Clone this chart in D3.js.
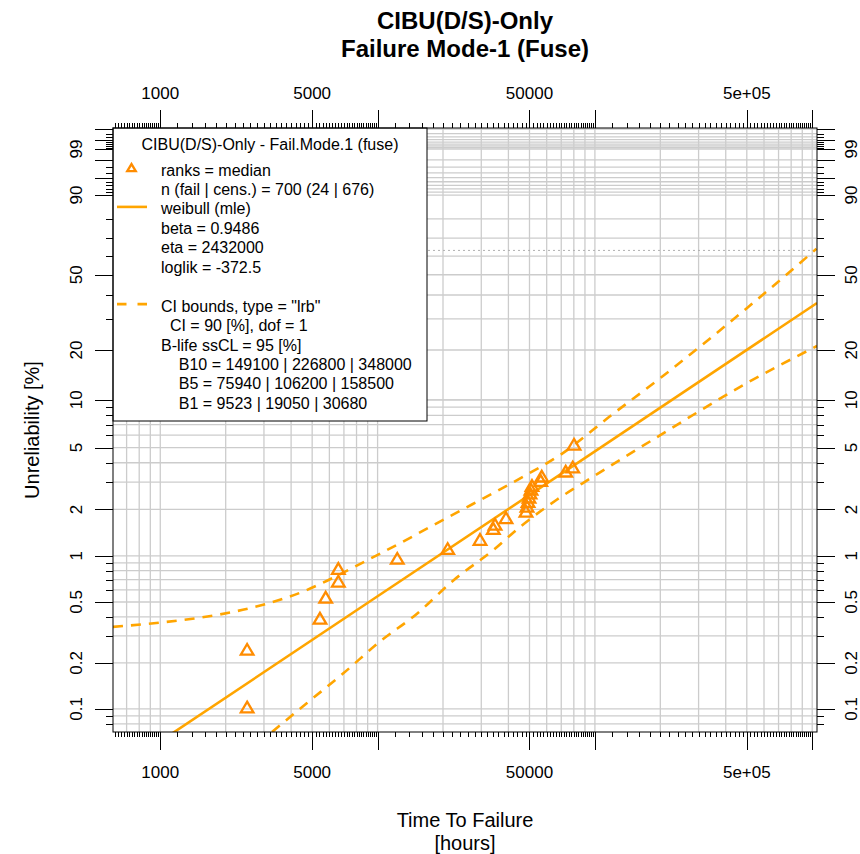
<!DOCTYPE html>
<html>
<head>
<meta charset="utf-8">
<script src="https://cdn.jsdelivr.net/npm/d3@7/dist/d3.min.js"></script>
<style>
  body { margin: 0; background: #fff; }
  svg { font-family: "Liberation Sans", Arial, sans-serif; }
  .leg text { white-space: pre; }
</style>
</head>
<body>
<div id="chart"></div>
<script>
// failures (time in hours, unreliability in %)
const failTime = [2510, 2510, 5430, 5770, 6597, 6597, 12320, 21020, 29600, 34080, 34700, 38980,
  48190, 48700, 49220, 49740, 50270, 50800, 51340, 56330, 56930, 73400, 79060, 80150];
const failPct = [0.102, 0.243, 0.388, 0.532, 0.677, 0.819, 0.954, 1.104, 1.266, 1.49, 1.59, 1.75,
  1.93, 2.08, 2.23, 2.38, 2.53, 2.68, 2.83, 3.05, 3.25, 3.50, 3.72, 5.2];

// weibull fit line
const fitTime = [1000, 10000, 100000, 1052000];
const fitPct = [0.0614, 0.545, 4.73, 36.4];

// likelihood ratio bounds
const upperTime = [606, 3883, 9908, 21540, 46840, 69100, 119500, 200000, 500000, 1046000];
const upperPct = [0.344, 0.538, 1.007, 1.81, 3.26, 4.48, 8.05, 13.6, 34.2, 64.1];
const lowerTime = [3268, 4720, 6957, 10260, 15140, 22310, 34080, 45220, 66730, 98330, 200000, 490600, 1052000];
const lowerPct = [0.0707, 0.109, 0.171, 0.276, 0.418, 0.691, 1.09, 1.54, 2.31, 3.26, 6.0, 12.5, 21.1];

const etaPct = 63.21;

const xLabelVals = [1000, 5000, 50000, 500000];
const xLabelText = ['1000', '5000', '50000', '5e+05'];
const xLongTicks = [1000, 5000, 10000, 50000, 100000, 500000, 1000000];

const yLabelVals = [0.1, 0.2, 0.5, 1, 2, 5, 10, 20, 50, 90, 99];
const yLongTicks = [0.1, 0.2, 0.5, 1, 2, 5, 10, 20, 50, 90, 95, 98, 99, 99.5, 99.8];
const yMidTicks = [20, 30, 40, 50, 60, 70, 80];

const legendTitle = 'CIBU(D/S)-Only - Fail.Mode.1 (fuse)';
const legendRows = [
  'ranks = median',
  'n (fail | cens.) = 700 (24 | 676)',
  'weibull (mle)',
  'beta = 0.9486',
  'eta = 2432000',
  'loglik = -372.5',
  '',
  'CI bounds, type = "lrb"',
  '  CI = 90 [%], dof = 1',
  'B-life ssCL = 95 [%]',
  '    B10 = 149100 | 226800 | 348000',
  '    B5 = 75940 | 106200 | 158500',
  '    B1 = 9523 | 19050 | 30680'
];
const legendSymbols = ['tri', '', 'line', '', '', '', '', 'dash', '', '', '', '', ''];

const W = 860, H = 854;
const L = 113, R = 817, T = 128, B = 732;
const lineCol = '#FFA500', ptCol = '#FF8C00', gridCol = '#cccccc';

// weibull probability transform
const wb = p => Math.log(-Math.log(1 - p / 100));

const x = d3.scaleLog().domain([606, 1052000]).range([L, R]);
const yw = d3.scaleLinear().domain([wb(0.0707), wb(99.82)]).range([B, T]);
const y = p => yw(wb(p));

const svg = d3.select('#chart').append('svg')
  .attr('width', W).attr('height', H);

svg.append('defs').append('clipPath').attr('id', 'clip')
  .append('rect').attr('x', L).attr('y', T).attr('width', R - L).attr('height', B - T);

// tick / grid value sets
const xGrid = [];
for (let k = 2; k <= 6; k++) d3.range(1, 10).forEach(m => xGrid.push(m * Math.pow(10, k)));
const xGridIn = xGrid.filter(v => v >= 606 && v <= 1052000);
const xMinor = [];
for (let k = 2; k <= 6; k++) {
  const base = Math.pow(10, k);
  d3.range(1, 45).forEach(j => xMinor.push(base + j * base / 5));
}
const xMinorIn = xMinor.filter(v => v >= 606 && v <= 1052000);

const yLow = [];
[0.01, 0.1, 1].forEach(b => d3.range(1, 10).forEach(m => yLow.push(+(m * b).toFixed(3))));
yLow.push(10);
const yHigh = [];
[0.1, 0.01, 0.001].forEach(b => d3.range(1, 10).forEach(m => yHigh.push(+(100 - m * b * 100).toFixed(3))));
const inY = p => y(p) >= T - 0.5 && y(p) <= B + 0.5;
const yGrid = yLow.concat(yHigh).filter(inY);
const yTicks = yLow.concat(yMidTicks, yHigh).filter(inY);

const panel = svg.append('g').attr('clip-path', 'url(#clip)');

// grid
panel.selectAll('.vg').data(xGridIn).enter().append('line')
  .attr('x1', d => x(d)).attr('x2', d => x(d)).attr('y1', T).attr('y2', B)
  .attr('stroke', gridCol).attr('stroke-width', 1.3);
panel.selectAll('.hg').data(yGrid).enter().append('line')
  .attr('x1', L).attr('x2', R).attr('y1', d => y(d)).attr('y2', d => y(d))
  .attr('stroke', gridCol).attr('stroke-width', 1.3);

// eta reference line
panel.append('line')
  .attr('x1', L).attr('x2', R).attr('y1', y(etaPct)).attr('y2', y(etaPct))
  .attr('stroke', '#b0b0b0').attr('stroke-width', 1).attr('stroke-dasharray', '2,3');

const line = d3.line().x(d => x(d[0])).y(d => y(d[1])).curve(d3.curveMonotoneX);

panel.append('path').datum(d3.zip(upperTime, upperPct))
  .attr('d', line).attr('fill', 'none').attr('stroke', lineCol)
  .attr('stroke-width', 2.6).attr('stroke-dasharray', '10,8');
panel.append('path').datum(d3.zip(lowerTime, lowerPct))
  .attr('d', line).attr('fill', 'none').attr('stroke', lineCol)
  .attr('stroke-width', 2.6).attr('stroke-dasharray', '10,8');
panel.append('path').datum(d3.zip(fitTime, fitPct))
  .attr('d', d3.line().x(d => x(d[0])).y(d => y(d[1])))
  .attr('fill', 'none').attr('stroke', lineCol).attr('stroke-width', 2.6);

const tri = s => `M0,${-s * 0.95}L${s},${s * 0.75}L${-s},${s * 0.75}Z`;
panel.selectAll('.pt').data(d3.zip(failTime, failPct)).enter().append('path')
  .attr('transform', d => `translate(${x(d[0])},${y(d[1])})`)
  .attr('d', tri(6.3)).attr('fill', 'none').attr('stroke', ptCol).attr('stroke-width', 2.3);

// legend
const leg = svg.append('g').attr('class', 'leg');
leg.append('rect').attr('x', L).attr('y', T).attr('width', 314).attr('height', 293)
  .attr('fill', '#fff').attr('stroke', '#000').attr('stroke-width', 1);
leg.append('text').attr('x', 270).attr('y', 144).attr('text-anchor', 'middle')
  .attr('dominant-baseline', 'central').attr('font-size', 16).text(legendTitle);
leg.selectAll('.row').data(legendRows).enter().append('text')
  .attr('x', 161).attr('y', (d, i) => 170 + i * 19.45)
  .attr('dominant-baseline', 'central').attr('font-size', 16)
  .attr('fill', '#000').text(d => d);
legendSymbols.forEach((s, i) => {
  const yy = 168 + i * 19.45;
  if (s === 'tri') {
    leg.append('path').attr('transform', `translate(131.5,${yy})`).attr('d', tri(4.2))
      .attr('fill', 'none').attr('stroke', ptCol).attr('stroke-width', 2.4);
  } else if (s === 'line') {
    leg.append('line').attr('x1', 117).attr('x2', 147).attr('y1', yy).attr('y2', yy)
      .attr('stroke', lineCol).attr('stroke-width', 2.6);
  } else if (s === 'dash') {
    leg.append('line').attr('x1', 117).attr('x2', 147).attr('y1', yy).attr('y2', yy)
      .attr('stroke', lineCol).attr('stroke-width', 2.6).attr('stroke-dasharray', '9.5,11');
  }
});

// panel border
svg.append('rect').attr('x', L).attr('y', T).attr('width', R - L).attr('height', B - T)
  .attr('fill', 'none').attr('stroke', '#000').attr('stroke-width', 1);

// x ticks top & bottom
const ax = svg.append('g').attr('stroke', '#000').attr('stroke-width', 1);
const isLongX = v => xLongTicks.some(t => Math.abs(t - v) / t < 1e-6);
const xAll = xMinorIn.concat(xLongTicks);
xAll.forEach(v => {
  const len = isLongX(v) ? 18 : 5;
  const px = Math.round(x(v)) + 0.5;
  ax.append('line').attr('x1', px).attr('x2', px).attr('y1', T).attr('y2', T - len);
  ax.append('line').attr('x1', px).attr('x2', px).attr('y1', B).attr('y2', B + len);
});
// y ticks left & right
const isLongY = v => yLongTicks.some(t => Math.abs(t - v) < 1e-6);
yTicks.forEach(v => {
  const len = isLongY(v) ? 18 : 7;
  const py = Math.round(y(v)) + 0.5;
  ax.append('line').attr('x1', L).attr('x2', L - len).attr('y1', py).attr('y2', py);
  ax.append('line').attr('x1', R).attr('x2', R + len).attr('y1', py).attr('y2', py);
});

// tick labels
xLabelVals.forEach((v, i) => {
  [93, 772].forEach(yy => {
    svg.append('text').attr('x', x(v)).attr('y', yy).attr('text-anchor', 'middle')
      .attr('dominant-baseline', 'central').attr('font-size', 17).text(xLabelText[i]);
  });
});
yLabelVals.forEach(v => {
  [76, 851].forEach(xx => {
    svg.append('text').attr('transform', `translate(${xx},${y(v)}) rotate(-90)`)
      .attr('text-anchor', 'middle').attr('dominant-baseline', 'central')
      .attr('font-size', 17).text(String(v));
  });
});

// titles
svg.append('text').attr('x', 465).attr('y', 20).attr('text-anchor', 'middle')
  .attr('dominant-baseline', 'central').attr('font-size', 24).attr('font-weight', 'bold')
  .text('CIBU(D/S)-Only');
svg.append('text').attr('x', 465).attr('y', 48).attr('text-anchor', 'middle')
  .attr('dominant-baseline', 'central').attr('font-size', 24).attr('font-weight', 'bold')
  .text('Failure Mode-1 (Fuse)');
svg.append('text').attr('x', 465).attr('y', 820).attr('text-anchor', 'middle')
  .attr('dominant-baseline', 'central').attr('font-size', 20).text('Time To Failure');
svg.append('text').attr('x', 465).attr('y', 843).attr('text-anchor', 'middle')
  .attr('dominant-baseline', 'central').attr('font-size', 20).text('[hours]');
svg.append('text').attr('transform', `translate(32,${(T + B) / 2}) rotate(-90)`)
  .attr('text-anchor', 'middle').attr('dominant-baseline', 'central')
  .attr('font-size', 20).text('Unreliability [%]');
</script>
</body>
</html>
